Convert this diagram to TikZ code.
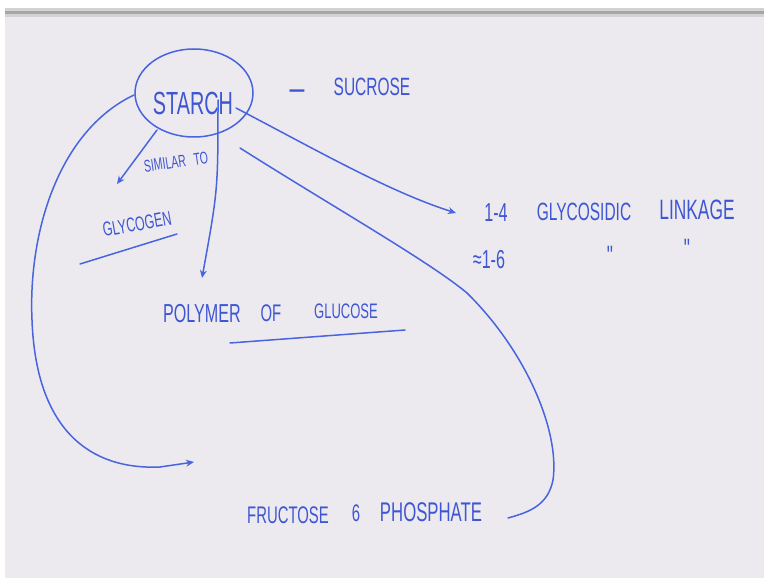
\documentclass[tikz,border=0pt]{standalone}
\usepackage{fontspec}
\usetikzlibrary{shapes.geometric,arrows.meta}
\newfontfamily\handfont[FakeStretch=0.62]{Liberation Sans}
\newcommand\hsz[1]{\handfont\fontsize{#1}{#1}\selectfont}
\definecolor{board}{RGB}{236,234,239}
\definecolor{ink}{RGB}{72,100,222}
\definecolor{inkt}{RGB}{62,86,212}
\tikzset{
  txt/.style={text=inkt, inner sep=0pt},
  pen/.style={draw=ink, line width=1.5pt, line cap=round, line join=round},
  arr/.style={pen, -{Stealth[length=8pt,width=7pt]}},
}
\begin{document}
\begin{tikzpicture}[x=1pt,y=-1pt]
\useasboundingbox (0,0) rectangle (764,578);
% board background
\fill[white] (0,0) rectangle (764,578);
\fill[board] (5,8) rectangle (764,578);
\fill[gray!35] (5,8) rectangle (764,17);
\fill[gray!70] (5,11) rectangle (764,14.5);

% STARCH ellipse and its text
\node[pen, ellipse, minimum width=118pt, minimum height=88pt, inner sep=0pt] (starch) at (194,93) {};
\node[txt, font=\hsz{32}] (starchtext) at (193,103) {STARCH};

\node[txt, font=\bfseries\hsz{24}] (dash) at (297,94) {—};
\node[txt, font=\hsz{25}] (sucrose) at (372,87) {SUCROSE};

\node[txt, font=\hsz{17}, rotate=8] (similar) at (176,162) {SIMILAR\hspace{8pt}TO};
\node[txt, font=\hsz{20}, rotate=10] (glycogen) at (137,224) {GLYCOGEN};

\node[txt, font=\hsz{26}] (polymer) at (202,314) {POLYMER};
\node[txt, font=\hsz{24}] (of) at (271,313) {OF};
\node[txt, font=\hsz{21}] (glucose) at (346,311) {GLUCOSE};

\node[txt, font=\hsz{26}] (onefour) at (496,213) {1-4};
\node[txt, font=\hsz{25}] (glycosidic) at (584,212) {GLYCOSIDIC};
\node[txt, font=\hsz{28}] (linkage) at (697,210) {LINKAGE};
\node[txt, font=\hsz{26}] (onesix) at (489,260) {≈1-6};
\node[txt, font=\hsz{28}] (ditto1) at (610,256) {"};
\node[txt, font=\hsz{28}] (ditto2) at (687,249) {"};

\node[txt, font=\hsz{24}] (fructose) at (288,515) {FRUCTOSE};
\node[txt, font=\hsz{24}] (six) at (356,513) {6};
\node[txt, font=\hsz{27}] (phosphate) at (431,512) {PHOSPHATE};

% coordinates of the hand-drawn connectors
\coordinate (a1s) at (157,130);
\coordinate (a1e) at (117,184);
\coordinate (a2s) at (218,100);
\coordinate (a2e) at (202,278);
\coordinate (a3s) at (236,108);
\coordinate (a3e) at (456,213);
\coordinate (a4s) at (240,148);
\coordinate (a4e) at (508,518);
\coordinate (a5s) at (134,95);
\coordinate (a5e) at (194,462);
\coordinate (u1s) at (80,264);
\coordinate (u1e) at (177,234);
\coordinate (u2s) at (230,343);
\coordinate (u2e) at (405,330);

% connectors
\draw[arr] (a1s) -- (a1e);
\draw[arr] (a2s) .. controls (218,190) .. (a2e);
\draw[arr] (a3s) .. controls (320,152) and (390,192) .. (a3e);
\draw[pen] (a4s) .. controls (330,205) and (430,262) .. (467,293)
               .. controls (525,350) and (560,430) .. (553,480)
               .. controls (548,505) and (530,512) .. (a4e);
\draw[arr] (a5s) .. controls (60,130) and (28,230) .. (32,320)
               .. controls (36,430) and (90,470) .. (160,467)
               -- (a5e);
\draw[pen] (u1s) -- (u1e);
\draw[pen] (u2s) -- (u2e);
\end{tikzpicture}
\end{document}
